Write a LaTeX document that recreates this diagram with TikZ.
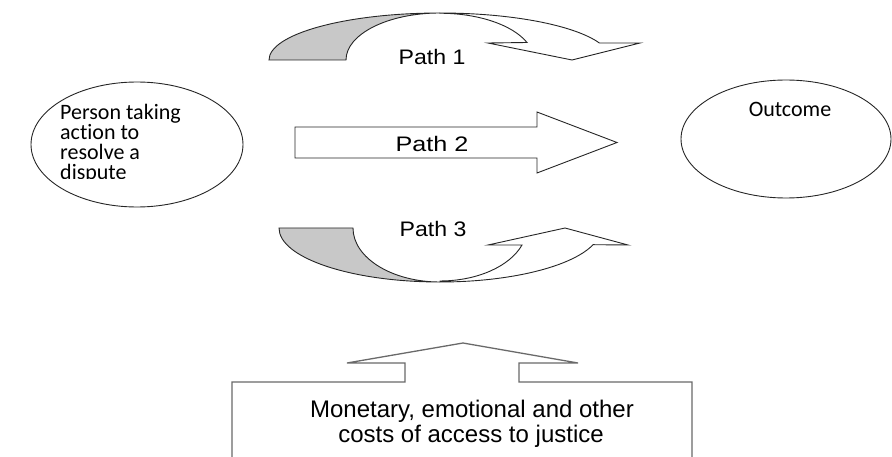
\documentclass[tikz,border=0pt]{standalone}
\usepackage{fontspec}
\setmainfont{Liberation Sans}
\newfontfamily\carlito[Ligatures=NoCommon]{Carlito}
\usetikzlibrary{shapes.geometric}
\definecolor{backshade}{RGB}{200,200,200}
\definecolor{boxline}{RGB}{105,105,105}
\begin{document}
\begin{tikzpicture}[x=1pt,y=-1pt,line join=miter,
  outline/.style={draw=black!85,line width=0.9pt},
  bubble/.style={ellipse,draw=black!85,line width=0.9pt,inner sep=0pt},
  calitext/.style={font=\carlito\fontsize{22}{20}\selectfont,inner sep=0pt},
  pathlabel/.style={font=\fontsize{21}{25}\selectfont,inner sep=0pt,anchor=base},
  costlabel/.style={font=\fontsize{24}{27}\selectfont,inner sep=0pt,anchor=base}]
\useasboundingbox (0,0) rectangle (892,457);
% ellipses
\node[bubble,minimum width=212pt,minimum height=125pt] (person) at (137,144.5) {};
\begin{scope}
\clip (40,95) rectangle (240,179);
\node[calitext,anchor=base west] (p1) at (60,119.3) {Person taking};
\node[calitext,anchor=base west] (p2) at (60,139.5) {action to};
\node[calitext,anchor=base west] (p3) at (60,159.8) {resolve a};
\node[calitext,anchor=base west] (p4) at (60,180) {dispute};
\end{scope}
\node[bubble,minimum width=210pt,minimum height=118pt] (outcome) at (786,139) {};
\node[calitext,anchor=base] (outtext) at (790,117) {Outcome};
% Path 1 (curved down arrow)
\filldraw[outline,fill=backshade] (269,60) arc[start angle=180,end angle=270,x radius=171,y radius=47]
  arc[start angle=270,end angle=180,x radius=94,y radius=47] -- cycle;
\filldraw[outline,fill=white] (440,13) arc[start angle=270,end angle=338.8,x radius=171,y radius=47]
  -- (640,43) -- (572,60) -- (488,43) -- (527,42.5)
  arc[start angle=337.8,end angle=270,x radius=94,y radius=47] -- cycle;
\node[pathlabel] (l1) at (432,65) {\scalebox{1.1}[1]{Path 1}};
% Path 2 (straight arrow)
\filldraw[outline,fill=white] (295,127) -- (537,127) -- (537,112) -- (617,142.5)
  -- (537,173) -- (537,158) -- (295,158) -- cycle;
\node[pathlabel] (l2) at (432,152) {\scalebox{1.2}[1]{Path 2}};
% Path 3 (curved up arrow)
\filldraw[outline,fill=backshade] (279,228) arc[start angle=180,end angle=90,x radius=161,y radius=54]
  arc[start angle=90,end angle=180,x radius=87,y radius=54] -- cycle;
\filldraw[outline,fill=white] (440,282) arc[start angle=90,end angle=18,x radius=161,y radius=54]
  -- (628,245) -- (565,228) -- (488,245) -- (522,245)
  arc[start angle=19.5,end angle=90,x radius=87,y radius=54] -- cycle;
\node[pathlabel] (l3) at (433,237) {\scalebox{1.1}[1]{Path 3}};
% costs box with up arrow
\begin{scope}
\clip (0,0) rectangle (892,457);
\draw[draw=boxline,line width=1.3pt] (232,470) -- (232,382) -- (405,382) -- (405,363) -- (347,363)
  -- (463,343) -- (578,363) -- (519,363) -- (519,382) -- (692,382) -- (692,470);
\end{scope}
\node[costlabel] (c1) at (472,417) {Monetary, emotional and other};
\node[costlabel] (c2) at (471,442) {costs of access to justice};
\end{tikzpicture}
\end{document}
